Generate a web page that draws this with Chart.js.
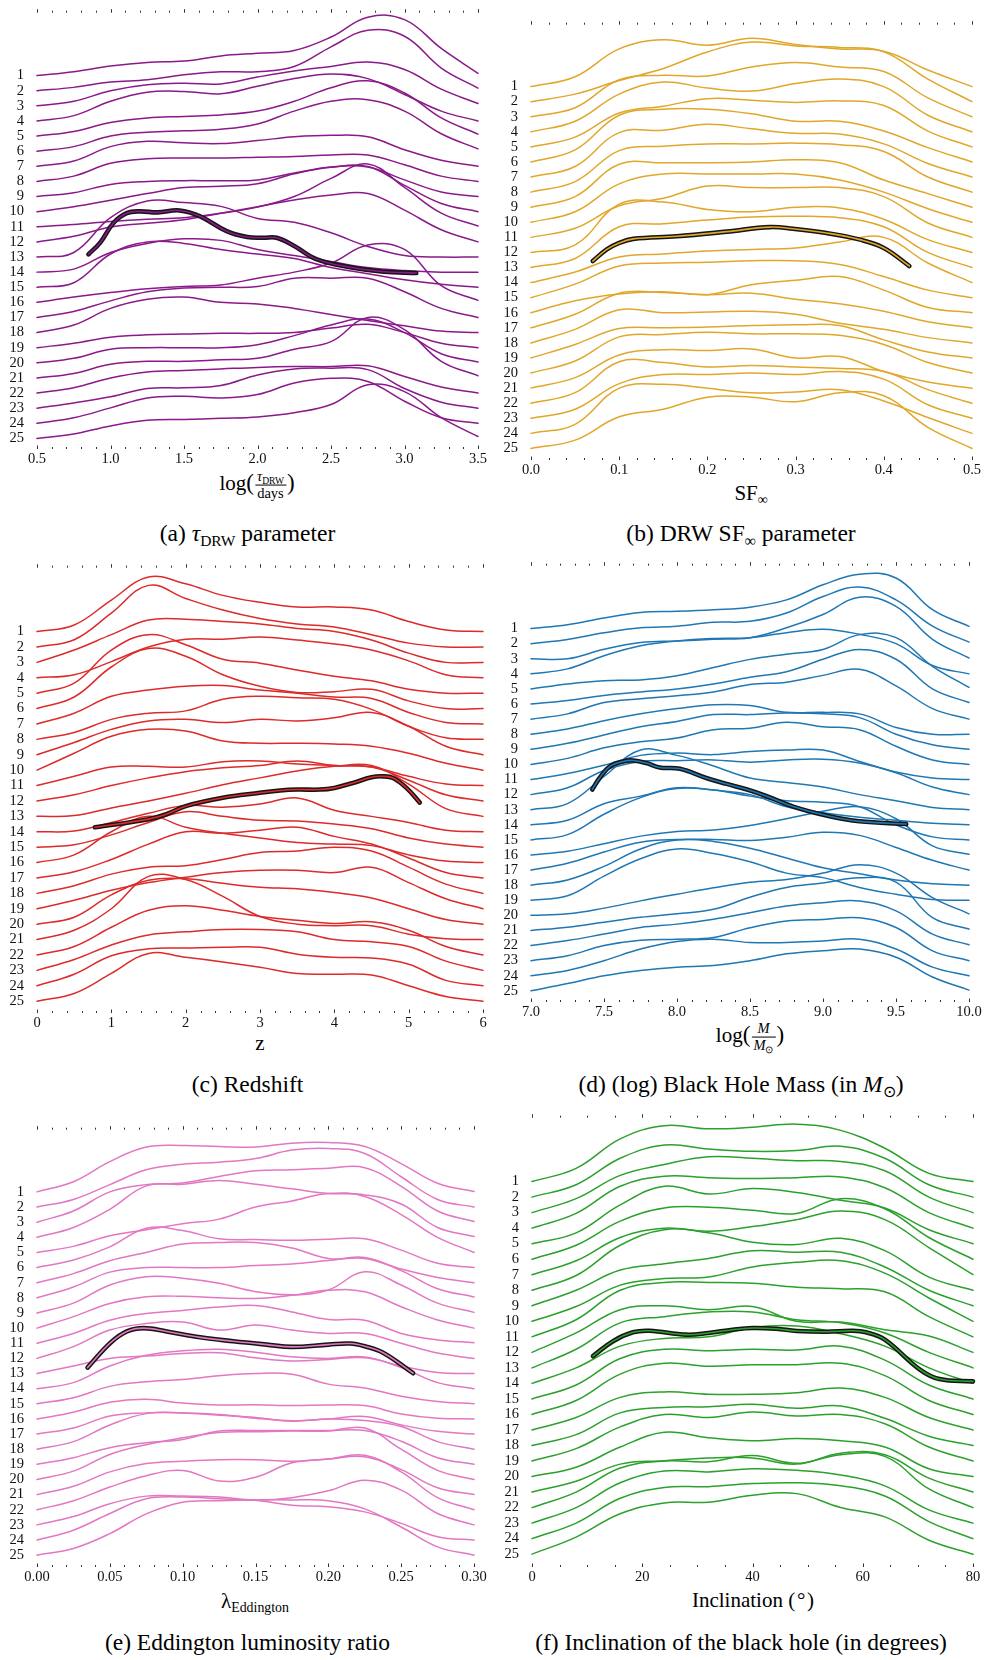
<!DOCTYPE html>
<html>
<head>
<meta charset="utf-8">
<script src="https://cdn.jsdelivr.net/npm/chart.js@4.4.1/dist/chart.umd.min.js"></script>
<style>
  html, body { margin: 0; padding: 0; background: #fff; }
  body { width: 986px; height: 1660px; position: relative; overflow: hidden;
         font-family: "Liberation Serif", "Times New Roman", serif; color: #000; }
  canvas { position: absolute; }
  .lbl { position: absolute; transform: translate(-50%, -50%); white-space: nowrap; line-height: 1; }
  .ttl { font-size: 21px; }
  .cap { font-size: 23.5px; }
  .lbl sub { font-size: 0.66em; vertical-align: -0.32em; line-height: 0; }
  .frac { display: inline-block; vertical-align: middle; text-align: center; font-size: 14.5px; line-height: 1.1; margin: 0 1px; }
  .frac > span { display: block; padding: 0 2px; }
  .frac > .num { border-bottom: 1px solid #000; }
  .pr { font-size: 23px; }
</style>
</head>
<body>

<!-- axis titles -->
<div class="lbl ttl" style="left:257px;top:485px">log<span class="pr">(</span><span class="frac"><span class="num"><i>τ</i><sub>DRW</sub></span><span class="den">days</span></span><span class="pr">)</span></div>
<div class="lbl ttl" style="left:751px;top:493px">SF<sub>∞</sub></div>
<div class="lbl ttl" style="left:260px;top:1043px">z</div>
<div class="lbl ttl" style="left:750px;top:1037px">log<span class="pr">(</span><span class="frac"><span class="num"><i>M</i></span><span class="den"><i>M</i><sub>⊙</sub></span></span><span class="pr">)</span></div>
<div class="lbl ttl" style="left:255px;top:1601px">λ<sub>Eddington</sub></div>
<div class="lbl ttl" style="left:753px;top:1600px">Inclination (&#8202;°&#8202;)</div>

<!-- sub-figure captions -->
<div class="lbl cap" style="left:247.5px;top:534px">(a) <i>τ</i><sub>DRW</sub> parameter</div>
<div class="lbl cap" style="left:741px;top:534px">(b) DRW SF<sub>∞</sub> parameter</div>
<div class="lbl cap" style="left:247.5px;top:1084.5px">(c) Redshift</div>
<div class="lbl cap" style="left:741px;top:1084.5px">(d) (log) Black Hole Mass (in <i>M</i><sub>⊙</sub>)</div>
<div class="lbl cap" style="left:247.5px;top:1643px">(e) Eddington luminosity ratio</div>
<div class="lbl cap" style="left:741px;top:1643px">(f) Inclination of the black hole (in degrees)</div>

<script>
// Ridge rows, top to bottom
const rowLabels = [1,2,3,4,5,6,7,8,9,10,11,12,13,14,15,16,17,18,19,20,21,22,23,24,25];

// ---------- (a) log tau_DRW ----------
const tauGrid  = [0.5,0.75,1.0,1.25,1.5,1.75,2.0,2.25,2.5,2.75,3.0,3.25,3.5];
const tauTicks = [0.5,1.0,1.5,2.0,2.5,3.0,3.5];
// ridge heights (in row units) at each grid point
const tauDensity = [
  [0,.26,.63,.87,.96,1.3,1.48,1.66,2.55,3.86,3.7,1.8,.15],
  [0,.22,.57,.72,1.05,1.25,1.26,1.6,2.9,4.0,3.6,1.5,.17],
  [0,.3,1.0,1.4,1.5,1.45,1.9,2.3,2.6,2.9,2.4,1.1,.15],
  [0,.35,1.3,1.9,1.95,1.8,2.3,2.8,3.1,2.8,1.75,.65,0],
  [0,.3,.9,1.2,1.3,1.4,1.65,2.3,3.2,3.65,2.85,1.2,.13],
  [0,.3,1.0,1.25,1.35,1.45,1.8,2.65,3.3,3.4,2.65,1.15,.15],
  [0,.35,1.3,1.65,1.55,1.5,1.7,1.95,2.05,1.95,1.1,.4,0],
  [0,.35,1.2,1.5,1.55,1.55,1.6,1.65,1.75,1.75,1.1,.35,0],
  [0,.25,.8,1.0,1.05,1.05,1.1,1.55,1.95,1.95,1.1,.3,0],
  [0,.33,.76,1.2,1.59,1.68,1.85,2.5,2.94,2.98,1.74,.54,0],
  [0,.15,.35,.5,.6,.9,1.3,2.0,3.2,4.15,2.6,.9,.05],
  [0,.37,.98,1.24,1.46,1.9,2.33,2.77,3.1,3.2,2.1,.8,0],
  [0,.3,2.6,3.7,3.6,3.35,2.55,2.3,1.6,.7,.1,0,0],
  [0,.2,1.3,1.9,2.2,2.1,1.5,1.1,.7,.3,.1,0,0],
  [0,.3,2.2,3.0,2.9,2.5,2.2,1.9,1.3,.9,.5,.2,0],
  [0,.35,.65,.9,1.05,1.15,1.6,2.0,2.6,3.8,3.5,1.1,.13],
  [0,.4,1.1,1.7,1.95,2.0,2.05,2.6,2.6,2.6,1.7,.6,0],
  [0,.5,1.6,2.2,2.35,2.0,1.9,1.6,1.2,.8,.45,.1,0],
  [0,.3,.7,.85,.9,.95,.95,1.0,1.3,1.55,1.0,.3,0],
  [0,.3,.9,1.0,1.0,1.0,1.2,1.8,2.5,2.9,2.0,.6,.05],
  [0,.3,.9,1.1,1.1,1.2,1.3,1.9,2.4,4.0,3.2,1.1,.15],
  [0,.35,1.0,1.4,1.5,1.6,1.7,1.75,1.75,1.8,1.1,.4,0],
  [0,.35,.75,1.3,1.35,1.5,2.2,2.6,2.65,2.55,1.3,.4,0],
  [0,.37,1.02,1.68,1.79,1.68,1.9,2.66,2.98,2.77,1.46,.37,0],
  [0,.3,.83,1.2,1.26,1.33,1.42,1.7,2.24,3.55,3.1,1.37,.13]
];
const tauTrackX   = [0.85,0.93,1.02,1.11,1.2,1.32,1.47,1.61,1.79,1.93,2.04,2.13,2.25,2.4,2.63,2.86,3.08];
const tauTrackRow = [12.82,12.05,10.75,10.1,9.98,10.05,9.92,10.31,11.29,11.68,11.73,11.73,12.27,13.14,13.68,13.97,14.06];

// ---------- (b) SF_inf ----------
const sfGrid  = [0,.05,.1,.15,.2,.25,.3,.35,.4,.45,.5];
const sfTicks = [0,.1,.2,.3,.4,.5];
const sfDensity = [
  [0,.65,2.5,3.1,2.75,3.2,2.8,2.5,2.35,1.1,0],
  [0,.5,1.4,2.2,3.3,3.95,3.7,3.6,3.3,1.5,0],
  [0,.6,2.45,2.75,2.7,3.3,3.6,3.3,3.0,1.25,0],
  [0,.7,2.5,3.3,2.9,2.7,3.2,3.5,3.0,1.1,0],
  [0,.65,2.25,2.7,3.2,3.1,2.95,3.05,2.75,1.05,0],
  [0,.8,3.1,3.5,3.5,3.2,2.7,2.7,2.05,.95,0],
  [0,.7,2.95,3.1,3.5,3.2,2.9,2.85,2.2,.9,0],
  [0,.7,2.75,3.05,3.2,3.2,3.25,3.15,2.7,1.0,0],
  [0,.7,2.85,2.95,2.95,3.0,3.15,2.95,1.8,.9,0],
  [0,.7,2.55,3.2,3.2,3.2,3.2,2.8,2.0,.9,0],
  [0,.6,2.1,2.6,3.4,3.3,3.3,3.3,2.7,.95,0],
  [0,.5,3.2,3.35,2.85,2.7,3.0,2.95,2.2,.85,0],
  [0,.6,2.7,2.9,3.15,3.35,3.4,3.3,2.7,1.0,0],
  [0,.7,1.7,1.9,2.1,2.2,2.3,2.7,3.0,1.3,0],
  [0,.9,2.1,2.3,2.35,2.45,2.45,2.2,1.4,.5,0],
  [0,.8,1.25,1.4,1.2,1.86,2.15,2.4,1.5,.35,0],
  [0,.9,2.3,2.35,2.2,2.3,1.9,1.6,1.1,.4,0],
  [0,.9,2.2,2.0,2.05,2.1,1.9,1.3,.9,.35,0],
  [0,.9,1.95,2.0,2.05,2.15,2.2,2.15,1.2,.4,0],
  [0,.8,2.4,2.55,2.7,2.6,2.6,2.5,1.9,.7,0],
  [0,.7,2.2,2.55,2.5,2.6,2.0,2.1,1.1,.4,0],
  [0,.7,2.75,2.7,2.4,2.5,2.4,2.3,2.1,.9,0],
  [0,.6,2.3,2.9,2.9,3.0,2.9,3.1,2.6,.9,0],
  [0,.6,3.0,3.25,3.0,2.7,2.75,2.9,2.15,1.05,0],
  [0,.55,2.1,2.6,3.4,3.4,3.1,3.7,3.5,1.4,0]
];
const sfTrackX   = [.07,.086,.1,.116,.165,.222,.271,.297,.335,.373,.4,.429];
const sfTrackRow = [12.57,11.8,11.37,11.1,10.93,10.62,10.32,10.43,10.71,11.15,11.7,12.9];

// ---------- (c) redshift ----------
const zGrid  = [0,.5,1,1.5,2,2.5,3,3.5,4,4.5,5,5.5,6];
const zTicks = [0,1,2,3,4,5,6];
const zDensity = [
  [0,.43,2.05,3.55,3.1,2.35,1.9,1.6,1.6,1.4,.65,.1,0],
  [0,.47,2.2,4.0,3.15,2.4,1.85,1.5,1.3,.8,.25,0,0],
  [0,.8,1.8,2.75,2.8,2.65,2.5,2.2,2.0,1.45,.6,0,0],
  [0,.2,1.05,2.0,2.5,2.5,2.65,2.45,2.2,1.8,1.1,.2,0],
  [0,.65,2.8,3.8,3.15,2.2,1.95,1.5,1.1,.8,.25,0,0],
  [0,.75,2.7,3.9,3.4,2.2,1.45,1.05,1.1,1.25,.5,0,0],
  [0,.7,1.8,2.2,2.45,2.5,2.2,2.0,1.75,1.65,.75,.1,0],
  [0,.45,1.3,1.7,1.85,2.6,2.8,2.7,2.6,1.95,.85,.1,0],
  [0,.8,1.65,2.2,2.3,2.1,2.3,2.2,2.4,2.75,1.85,.55,0],
  [0,1.1,2.2,2.65,2.55,1.9,1.75,1.75,1.7,1.55,1.1,.45,0],
  [0,.6,1.2,1.25,1.2,1.55,1.6,1.4,1.3,1.2,.6,.1,0],
  [0,.4,1.0,1.5,1.9,2.15,2.3,2.6,2.3,2.2,1.35,.4,0],
  [0,.05,.55,1.0,1.5,2.05,2.5,2.95,3.25,3.3,2.1,.5,0],
  [0,.05,.6,1.2,1.7,1.6,1.8,2.2,1.4,1.0,.6,.1,0],
  [0,.15,.8,1.6,2.3,2.0,1.75,1.7,1.5,1.2,.6,.2,0],
  [0,.5,2.0,3.0,2.3,1.9,1.6,1.3,1.2,1.1,.5,.1,0],
  [0,.4,1.2,2.2,3.0,2.9,3.1,3.3,2.7,2.2,1.3,.35,0],
  [0,.5,1.25,1.7,1.8,2.2,2.65,2.75,3.0,2.75,1.7,.6,0],
  [0,.55,1.2,1.7,2.05,2.35,2.5,2.5,2.35,2.7,1.7,.65,0],
  [0,.45,1.9,2.85,2.95,2.65,2.4,2.3,2.05,1.7,1.0,.3,0],
  [0,.6,2.0,4.1,3.9,2.8,1.5,1.0,.9,.9,.35,.05,0],
  [0,.55,1.8,2.9,3.2,2.9,2.5,2.25,2.05,2.15,1.6,.55,0],
  [0,.7,1.65,2.3,2.5,2.65,2.65,2.5,2.0,1.85,1.55,.6,0],
  [0,.75,1.95,2.4,2.45,2.5,2.5,2.05,1.85,1.8,1.4,.35,0],
  [0,.5,1.8,3.1,2.85,2.55,2.2,1.8,1.75,1.7,1.0,.3,0]
];
const zTrackX   = [0.78,1.5,1.74,2.01,2.5,3.0,3.27,3.5,3.81,4.0,4.25,4.5,4.66,4.79,4.97,5.15];
const zTrackRow = [13.71,13.18,12.86,12.32,11.79,11.47,11.32,11.26,11.26,11.15,10.83,10.46,10.4,10.51,11.15,12.11];

// ---------- (d) log black hole mass ----------
const massGrid  = [7,7.25,7.5,7.75,8,8.25,8.5,8.75,9,9.25,9.5,9.75,10];
const massTicks = [7,7.5,8,8.5,9,9.5,10];
const massDensity = [
  [0,.25,.7,1.07,1.14,1.25,1.42,1.9,2.9,3.6,3.35,1.25,.15],
  [0,.28,.72,1.05,1.16,1.42,1.48,2.03,3.12,3.75,2.9,1.16,.1],
  [0,0,.63,1.07,1.18,1.29,1.4,2.05,2.93,4.08,3.47,1.29,.05],
  [0,.33,1.2,1.86,2.18,2.34,2.4,2.73,2.95,2.62,2.0,.55,0],
  [0,.33,.55,.6,.87,1.42,1.96,2.3,2.62,3.6,3.4,1.5,.1],
  [0,.24,.57,.8,1.0,1.33,1.77,2.14,2.97,3.62,2.97,1.0,.1],
  [0,.35,1.1,1.35,1.55,1.8,2.3,2.45,2.9,3.3,2.2,.7,0],
  [0,.35,.9,1.35,1.7,1.95,1.9,1.45,1.45,1.35,.45,0,0],
  [0,.4,.95,1.5,1.85,2.3,2.3,2.4,2.35,2.1,1.0,.3,0],
  [0,.4,1.1,1.5,1.75,2.3,2.4,2.8,2.5,2.3,1.2,.3,0],
  [0,.4,.95,1.6,1.75,1.65,1.85,1.95,1.95,1.2,.5,.1,0],
  [0,.45,1.6,2.2,2.25,2.3,2.15,2.3,2.35,2.1,1.45,.5,0],
  [0,.4,2.2,3.95,3.6,2.9,2.1,1.8,1.5,1.0,.6,.15,0],
  [0,.3,1.4,1.9,2.45,2.3,2.0,1.2,.8,.5,.3,.1,0],
  [0,.35,1.7,2.8,3.4,3.3,2.9,2.6,2.5,2.2,1.0,.2,0],
  [0,.25,.75,1.25,1.55,1.65,1.95,2.4,2.9,3.2,2.4,.6,.05],
  [0,.45,1.2,1.85,2.03,2.03,1.96,2.18,2.5,2.3,1.5,.65,0],
  [0,.35,1.25,2.4,3.0,2.9,2.45,1.8,1.15,.75,.35,.1,0],
  [0,.3,1.6,2.75,3.4,3.1,2.55,1.8,1.5,.85,.4,.05,0],
  [0,.1,.48,.96,1.4,1.83,2.2,2.38,2.8,3.36,2.8,1.18,.1],
  [0,.22,.55,.87,1.1,1.4,2.2,2.85,3.15,3.5,3.2,.85,.1],
  [0,.33,.76,1.2,1.42,1.75,2.18,2.62,2.84,2.95,2.3,.76,.05],
  [0,.33,1.0,1.35,1.42,1.53,2.18,2.62,2.73,2.84,2.2,.65,0],
  [0,.35,1.0,1.77,2.27,2.42,2.2,2.2,2.3,2.42,1.77,.57,0],
  [0,.48,1.0,1.35,1.57,1.68,2.0,2.45,2.66,2.77,2.23,.92,.05]
];
const massTrackX   = [7.42,7.47,7.54,7.63,7.70,7.79,7.88,8.02,8.2,8.34,8.48,8.61,8.8,9.03,9.25,9.57];
const massTrackRow = [11.66,10.9,10.13,9.8,9.74,9.91,10.2,10.29,10.9,11.29,11.66,12.09,12.81,13.4,13.77,13.95];

// ---------- (e) Eddington ratio ----------
const eddGrid  = [0,.025,.05,.075,.1,.125,.15,.175,.2,.225,.25,.275,.3];
const eddTicks = [0,.05,.1,.15,.2,.25,.3];
const eddDensity = [
  [0,.67,2.0,2.96,3.07,3.0,2.96,3.22,3.26,3.0,1.87,.57,.02],
  [0,.5,1.48,2.46,2.83,2.96,3.2,3.76,3.87,3.54,2.0,.5,0],
  [0,.74,2.0,2.48,2.59,3.02,3.39,3.46,3.57,3.6,2.37,.74,.04],
  [0,.65,1.85,3.4,3.5,3.76,3.5,3.2,2.9,2.8,2.2,.65,.05],
  [0,.4,1.1,1.5,1.9,2.2,3.0,3.4,3.9,3.7,2.5,1.0,0],
  [0,.5,1.37,2.6,2.45,1.9,1.85,1.8,1.87,1.9,1.15,.28,0],
  [0,.6,1.45,2.0,2.55,2.65,2.65,2.3,1.6,1.6,.9,.35,0],
  [0,.72,1.7,2.0,2.0,2.0,2.13,2.24,2.46,2.67,1.8,.6,.06],
  [0,.65,1.85,2.4,2.3,1.96,1.41,1.2,1.52,2.72,1.85,.65,.04],
  [0,.76,1.63,2.07,2.1,2.0,1.96,2.17,2.5,2.4,1.41,.54,0],
  [0,.65,1.52,1.96,2.17,2.39,2.5,2.07,1.57,1.52,.65,.22,.04],
  [0,.78,1.87,2.3,2.41,1.87,2.2,1.87,1.65,1.65,1.0,.35,0],
  [0,.5,1.0,1.15,1.32,1.37,1.04,.83,.93,1.04,.5,.07,0],
  [0,.4,1.5,2.2,2.5,2.6,2.4,2.1,2.0,2.1,1.4,.4,0],
  [0,.4,1.15,1.45,1.6,1.85,2.0,1.95,1.3,1.05,.5,.15,0],
  [0,.44,1.1,1.3,1.05,.92,.94,.88,.92,.88,.33,.05,0],
  [0,.4,1.2,1.4,1.4,1.3,1.05,.88,1.0,1.16,.6,.18,0],
  [0,.5,1.6,2.35,2.4,2.25,2.1,1.85,2.0,1.9,1.5,.5,0],
  [0,.44,1.1,1.42,1.64,2.2,2.23,2.23,2.23,2.23,1.53,.44,0],
  [0,.55,1.65,2.3,2.75,3.1,3.15,3.2,3.2,3.4,2.0,.6,0],
  [0,.55,1.5,2.05,2.2,2.3,2.3,2.2,2.35,2.5,1.65,.45,0],
  [0,.6,1.5,2.25,2.6,1.9,2.15,3.1,3.35,3.6,2.5,.8,0],
  [0,.55,1.4,1.9,1.9,1.85,1.65,1.8,2.25,2.95,2.3,.75,0],
  [0,.65,1.75,2.73,2.84,2.73,2.62,2.3,2.2,1.86,1.1,.22,0],
  [0,.44,1.42,2.73,3.5,3.6,3.65,3.65,3.6,3.06,1.86,.55,0]
];
const eddTrackX   = [.0347,.0503,.0617,.0731,.0891,.112,.1348,.1576,.175,.2,.2148,.225,.2376,.2582];
const eddTrackRow = [12.61,10.98,10.22,10.0,10.22,10.61,10.87,11.09,11.24,11.09,11.02,11.2,11.63,12.98];

// ---------- (f) inclination ----------
const incGrid  = [0,8,16,24,32,40,48,56,64,72,80];
const incTicks = [0,20,40,60,80];
const incDensity = [
  [0,.85,2.75,3.6,3.4,3.5,3.7,3.3,2.15,.53,0],
  [0,.8,2.5,3.35,3.1,2.95,3.0,3.27,2.5,.8,0],
  [0,.9,2.4,3.1,3.6,3.5,3.35,3.3,2.7,1.0,0],
  [0,.95,2.7,3.35,3.25,3.2,3.25,3.3,2.6,1.0,0],
  [0,.7,2.5,3.7,3.2,3.55,3.3,2.8,2.3,.9,0],
  [0,.9,2.45,3.3,3.35,3.15,2.95,3.9,3.25,1.4,0],
  [0,.9,2.4,3.0,2.8,3.1,3.55,4.1,3.55,1.75,0],
  [0,.95,2.9,3.9,3.7,3.1,2.95,3.35,2.55,.85,0],
  [0,1.0,2.3,2.7,3.05,3.55,3.45,3.45,2.5,1.0,0],
  [0,.95,2.33,2.75,2.85,3.5,3.8,3.9,3.1,1.5,0],
  [0,1.1,3.0,3.5,3.5,3.45,3.2,3.1,2.9,1.3,0],
  [0,1.25,2.75,3.0,2.75,2.95,2.0,1.95,1.45,1.05,0],
  [0,1.2,2.9,3.3,3.6,3.6,3.1,2.9,2.25,1.0,0],
  [0,1.0,2.4,2.9,3.0,3.6,3.7,3.2,2.4,1.0,0],
  [0,.9,2.6,3.2,3.1,3.2,3.15,3.4,2.5,.9,0],
  [0,.9,2.6,3.3,3.1,3.2,3.2,3.3,2.5,.9,0],
  [0,.8,2.1,2.45,2.3,2.3,2.4,2.7,2.1,.8,0],
  [0,.7,2.1,2.45,2.5,2.65,2.4,2.55,1.75,.6,0],
  [0,.8,2.2,3.0,2.8,3.15,2.9,3.0,2.4,.9,0],
  [0,.6,1.9,2.85,2.5,2.3,2.45,2.3,1.9,.5,0],
  [0,.7,1.8,2.02,2.2,2.2,1.8,2.5,2.4,.9,0],
  [0,1.0,2.55,3.0,2.95,3.35,2.85,3.4,3.3,1.2,0],
  [0,1.0,2.6,3.35,3.3,3.5,3.4,3.1,2.4,.85,0],
  [0,1.0,2.6,3.3,3.35,3.55,3.6,3.4,2.75,1.1,0],
  [0,1.1,2.6,3.3,3.35,3.8,3.9,3.0,2.4,.9,0]
];
const incTrackX   = [11.06,14.7,18.3,21.3,28.0,32.0,36.4,40.0,44.3,48.0,53.4,58.2,60.6,64.0,70.3,73.9,80];
const incTrackRow = [12.24,11.28,10.71,10.61,10.86,10.75,10.54,10.43,10.48,10.62,10.67,10.61,10.71,11.18,13.09,13.72,13.87];

// Short tick marks along the top and bottom edges of the plot area,
// placed through the x scale (major ticks plus evenly spaced minor ones).
const edgeTicks = {
  id: 'edgeTicks',
  afterDraw(chart, args, opts) {
    const { ctx, chartArea: a, scales: { x } } = chart;
    const major = opts.major, nMinor = opts.minor;
    ctx.save();
    ctx.strokeStyle = '#333';
    ctx.lineWidth = 1;
    const mark = (v, len) => {
      const px = Math.round(x.getPixelForValue(v)) + 0.5;
      ctx.beginPath();
      ctx.moveTo(px, a.top); ctx.lineTo(px, a.top - len);
      ctx.moveTo(px, a.bottom); ctx.lineTo(px, a.bottom - len);
      ctx.stroke();
    };
    for (let i = 0; i < major.length; i++) {
      mark(major[i], 3.5);
      if (i < major.length - 1) {
        for (let k = 1; k <= nMinor; k++) {
          mark(major[i] + (major[i + 1] - major[i]) * k / (nMinor + 1), 2);
        }
      }
    }
    ctx.restore();
  }
};

const YW = 40, PR = 16, PT = 16, XH = 26;
const tickFont = { family: 'Liberation Serif', size: 14.5 };

function buildPanel(p) {
  const cv = document.createElement('canvas');
  const w = (p.R - p.L) + YW + PR;
  const h = (p.B - p.T) + PT + XH;
  cv.width = w; cv.height = h;
  cv.style.width = w + 'px'; cv.style.height = h + 'px';
  cv.style.left = (p.L - YW) + 'px';
  cv.style.top = (p.T - PT) + 'px';
  document.body.appendChild(cv);

  const sp = (p.row25Y - p.row1Y) / 24;
  const yMin = 1 - (p.row1Y - p.T) / sp;
  const yMax = 25 + (p.B - p.row25Y) / sp;

  const datasets = [];
  // highlighted track: thin coloured line over a thick dark one
  const track = p.trackX.map((v, i) => ({ x: v, y: p.trackRow[i] }));
  datasets.push({ data: track, borderColor: p.color, borderWidth: 1.6, clip: false });
  datasets.push({ data: track, borderColor: '#151515', borderWidth: 4.6, clip: false });
  p.density.forEach((hs, r) => {
    const row = rowLabels[r];
    datasets.push({
      data: p.grid.map((v, j) => ({ x: v, y: row - hs[j] })),
      borderColor: p.color, borderWidth: 1.5, clip: false
    });
  });

  new Chart(cv, {
    type: 'line',
    data: { datasets },
    options: {
      responsive: false, animation: false, devicePixelRatio: 1,
      layout: { padding: { left: 0, right: PR, top: PT, bottom: 0 } },
      elements: {
        point: { radius: 0, hoverRadius: 0 },
        line: { tension: 0.4, fill: false, borderCapStyle: 'round', borderJoinStyle: 'round' }
      },
      plugins: {
        legend: { display: false }, tooltip: { enabled: false },
        edgeTicks: { major: p.ticks, minor: p.minor }
      },
      scales: {
        x: {
          type: 'linear', position: 'bottom', min: p.ticks[0], max: p.ticks[p.ticks.length - 1],
          afterBuildTicks: s => { s.ticks = p.ticks.map(v => ({ value: v })); },
          afterFit: s => { s.height = XH; },
          ticks: { font: tickFont, color: '#111', padding: 1, maxRotation: 0, autoSkip: false,
                   callback: v => Number(v).toFixed(p.dec) },
          grid: { display: false, drawTicks: false },
          border: { display: false }
        },
        y: {
          type: 'linear', reverse: true, min: yMin, max: yMax,
          afterBuildTicks: s => { s.ticks = rowLabels.map(v => ({ value: v })); },
          afterFit: s => { s.width = YW; },
          ticks: { font: tickFont, color: '#111', padding: 13, autoSkip: false },
          grid: { display: false, drawTicks: false },
          border: { display: false }
        }
      }
    },
    plugins: [edgeTicks]
  });
}

const panels = [
  { L: 37,  R: 478, T: 7,    B: 449,  row1Y: 70.7,   row25Y: 438.3, grid: tauGrid,  density: tauDensity,  ticks: tauTicks,  dec: 1, minor: 4, color: '#8a1a8a', trackX: tauTrackX,  trackRow: tauTrackRow },
  { L: 531, R: 972, T: 19,   B: 460,  row1Y: 81.7,   row25Y: 448.3, grid: sfGrid,   density: sfDensity,   ticks: sfTicks,   dec: 1, minor: 4, color: '#e1a72a', trackX: sfTrackX,   trackRow: sfTrackRow },
  { L: 37,  R: 483, T: 562,  B: 1013, row1Y: 626.7,  row25Y: 1001,  grid: zGrid,    density: zDensity,    ticks: zTicks,    dec: 0, minor: 4, color: '#dd2a2a', trackX: zTrackX,    trackRow: zTrackRow },
  { L: 531, R: 969, T: 560,  B: 1002, row1Y: 623.7,  row25Y: 990.7, grid: massGrid, density: massDensity, ticks: massTicks, dec: 1, minor: 4, color: '#1f77b4', trackX: massTrackX, trackRow: massTrackRow },
  { L: 37,  R: 474, T: 1124, B: 1567, row1Y: 1187,   row25Y: 1555,  grid: eddGrid,  density: eddDensity,  ticks: eddTicks,  dec: 2, minor: 4, color: '#e377c2', trackX: eddTrackX,  trackRow: eddTrackRow },
  { L: 532, R: 973, T: 1112, B: 1567, row1Y: 1176.7, row25Y: 1554,  grid: incGrid,  density: incDensity,  ticks: incTicks,  dec: 0, minor: 3, color: '#2ca02c', trackX: incTrackX,  trackRow: incTrackRow }
];
panels.forEach(buildPanel);
</script>
</body>
</html>
